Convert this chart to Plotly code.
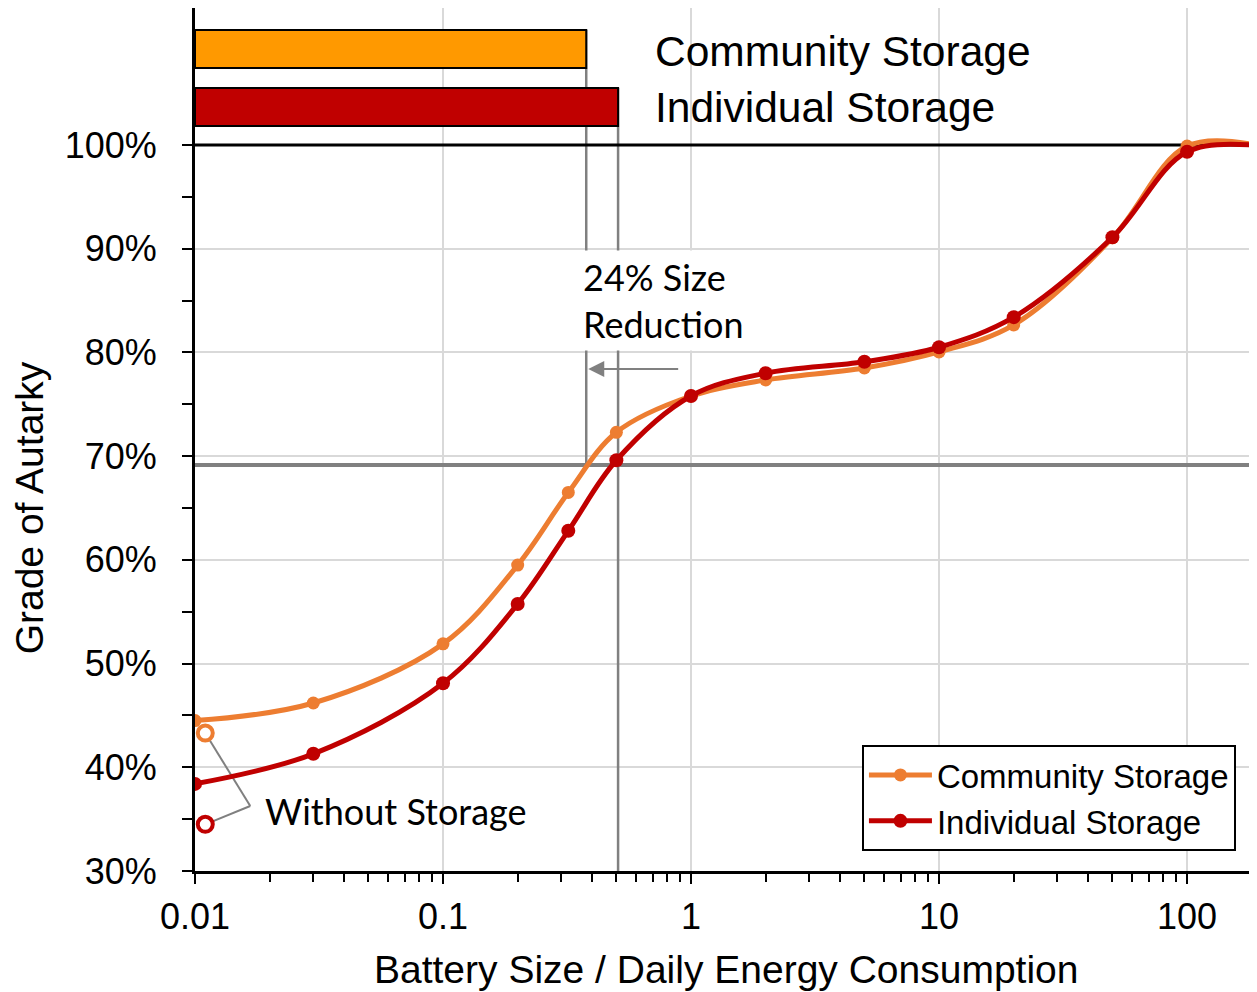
import numpy as np
import plotly.graph_objects as go

# ---------------- data ----------------
battery_size = [0.01, 0.03, 0.1, 0.2, 0.32, 0.5, 1, 2, 5, 10, 20, 50, 100, 200]
community = [0.445, 0.462, 0.519, 0.595, 0.665, 0.723, 0.758, 0.7735, 0.785,
             0.8005, 0.8265, 0.9105, 0.999, 0.999]
individual = [0.384, 0.413, 0.481, 0.5575, 0.628, 0.696, 0.758, 0.780, 0.791,
              0.805, 0.834, 0.911, 0.9935, 0.999]

no_storage_x = [0.011]
no_storage_community = [0.433]
no_storage_individual = [0.345]

series_names = ["Community Storage", "Individual Storage"]
required_size = [0.378, 0.508]        # battery size needed for target autarky
target_autarky = 0.6915
reduction_label = "24% Size<br>Reduction"
no_storage_label = "Without Storage"
x_title = "Battery Size / Daily Energy Consumption"
y_title = "Grade of Autarky"

x_tickvals = [0.01, 0.1, 1, 10, 100]
x_ticktext = ["0.01", "0.1", "1", "10", "100"]
y_tickvals = [0.3, 0.4, 0.5, 0.6, 0.7, 0.8, 0.9, 1.0]
y_ticktext = ["30%", "40%", "50%", "60%", "70%", "80%", "90%", "100%"]
y_minor_tickvals = [0.35, 0.45, 0.55, 0.65, 0.75, 0.85, 0.95]

# ---------------- style ----------------
ORANGE = "#ED7D31"
RED = "#C00000"
BAR_COLORS = ["#FF9900", "#C00000"]
GRAY = "#808080"
GRID = "#D9D9D9"
ARIAL = "Liberation Sans, Arial, sans-serif"
CALIBRI = "Lato, Carlito, Calibri, sans-serif"

X_LOG_RANGE = [-2, 2.282]
Y_RANGE = [0.30, 1.1321]
x_min = 10 ** X_LOG_RANGE[0]
x_max = 10 ** X_LOG_RANGE[1]

bar_y_extent = [(1.0742, 1.1109), (1.0183, 1.0550)]

fig = go.Figure()

# reference lines
fig.add_trace(go.Scatter(x=[x_min, x_max], y=[target_autarky, target_autarky],
                         mode="lines", line=dict(color=GRAY, width=4),
                         showlegend=False, hoverinfo="skip"))
fig.add_trace(go.Scatter(x=[required_size[0], required_size[0]],
                         y=[bar_y_extent[0][1], target_autarky],
                         mode="lines", line=dict(color=GRAY, width=2.5),
                         showlegend=False, hoverinfo="skip"))
fig.add_trace(go.Scatter(x=[required_size[1], required_size[1]],
                         y=[bar_y_extent[1][1], Y_RANGE[0]],
                         mode="lines", line=dict(color=GRAY, width=2.5),
                         showlegend=False, hoverinfo="skip"))
fig.add_trace(go.Scatter(x=[x_min, x_max], y=[1.0, 1.0],
                         mode="lines", line=dict(color="black", width=3),
                         showlegend=False, hoverinfo="skip"))

# required-size bars at the top
for size, (y0, y1), col in zip(required_size, bar_y_extent, BAR_COLORS):
    fig.add_trace(go.Scatter(x=[x_min, size, size, x_min, x_min],
                             y=[y0, y0, y1, y1, y0],
                             mode="lines", fill="toself", fillcolor=col,
                             line=dict(color="black", width=2),
                             showlegend=False, hoverinfo="skip"))

# leader lines for "Without Storage"
join_x, join_y = 0.0167, 0.3627
for yv in (no_storage_community[0], no_storage_individual[0]):
    fig.add_trace(go.Scatter(x=[join_x, no_storage_x[0]], y=[join_y, yv],
                             mode="lines", line=dict(color=GRAY, width=2),
                             showlegend=False, hoverinfo="skip"))

# main curves
fig.add_trace(go.Scatter(x=battery_size, y=community, name=series_names[0],
                         mode="lines+markers",
                         line=dict(color=ORANGE, width=5, shape="spline", smoothing=1),
                         marker=dict(color=ORANGE, size=13)))
fig.add_trace(go.Scatter(x=battery_size, y=individual, name=series_names[1],
                         mode="lines+markers",
                         line=dict(color=RED, width=5, shape="spline", smoothing=1),
                         marker=dict(color=RED, size=14)))

# without-storage markers
fig.add_trace(go.Scatter(x=no_storage_x, y=no_storage_community, mode="markers",
                         marker=dict(color="white", size=15,
                                     line=dict(color=ORANGE, width=4)),
                         showlegend=False, hoverinfo="skip"))
fig.add_trace(go.Scatter(x=no_storage_x, y=no_storage_individual, mode="markers",
                         marker=dict(color="white", size=15,
                                     line=dict(color=RED, width=4)),
                         showlegend=False, hoverinfo="skip"))

annotations = [
    dict(xref="paper", yref="y", x=0.4315, y=1.0897, xanchor="left", yanchor="middle",
         text=series_names[0], showarrow=False, font=dict(family=ARIAL, size=42.5, color="black")),
    dict(xref="paper", yref="y", x=0.4315, y=1.0357, xanchor="left", yanchor="middle",
         text=series_names[1], showarrow=False, font=dict(family=ARIAL, size=42.5, color="black")),
    dict(xref="x", yref="y", x=-0.4556, y=0.8496, xanchor="left", yanchor="middle",
         text=reduction_label, align="left", showarrow=False, bgcolor="white",
         borderpad=4, font=dict(family=CALIBRI, size=36, color="black")),
    dict(xref="x", yref="y", x=np.log10(0.385), y=0.784, axref="x", ayref="y",
         ax=np.log10(0.9), ay=0.784, text="", showarrow=True, arrowhead=2,
         arrowsize=1.6, arrowwidth=2, arrowcolor=GRAY),
    dict(xref="x", yref="y", x=-1.7258, y=0.3579, xanchor="left", yanchor="middle",
         text=no_storage_label, showarrow=False,
         font=dict(family=CALIBRI, size=36, color="black")),
    # axis titles
    dict(xref="paper", yref="paper", x=0.5, y=-0.1147, xanchor="center", yanchor="middle",
         text=x_title, showarrow=False, font=dict(family=ARIAL, size=39, color="black")),
    dict(xref="paper", yref="y", x=-0.156, y=0.65, xanchor="center", yanchor="middle",
         text=y_title, textangle=-90, showarrow=False,
         font=dict(family=ARIAL, size=39, color="black")),
]

x_minor = [k * 10 ** e for e in range(-2, 3) for k in range(2, 10) if k * 10 ** e <= x_max]

# the page body adds an 8px offset; compensate so the plot lands at the reference place
fig.update_layout(
    width=1249, height=984,
    margin=dict(l=187, r=0, t=0, b=121),
    paper_bgcolor="white", plot_bgcolor="white",
    font=dict(family=ARIAL, color="black"),
    annotations=annotations,
    legend=dict(x=0.628, y=0.146, xanchor="left", yanchor="top",
                bordercolor="black", borderwidth=2, bgcolor="white",
                font=dict(family=ARIAL, size=33, color="black"),
                tracegroupgap=0, itemwidth=63),
    xaxis=dict(type="log", range=X_LOG_RANGE, tickvals=x_tickvals, ticktext=x_ticktext,
               automargin=False,
               ticks="outside", ticklen=10, tickwidth=2, tickcolor="black",
               showline=True, linecolor="black", linewidth=3, mirror=True,
               showgrid=True, gridcolor=GRID, gridwidth=2, zeroline=False,
               tickfont=dict(family=ARIAL, size=36, color="black"),
               ticklabelstandoff=2,
               minor=dict(tickvals=x_minor, ticks="outside", ticklen=8, tickwidth=2,
                          tickcolor="black", showgrid=False)),
    yaxis=dict(range=Y_RANGE, tickvals=y_tickvals, ticktext=y_ticktext,
               automargin=False,
               ticks="outside", ticklen=10, tickwidth=2, tickcolor="black",
               showline=True, linecolor="black", linewidth=3,
               showgrid=True, gridcolor=GRID, gridwidth=2, zeroline=False,
               tickfont=dict(family=ARIAL, size=36, color="black"),
               ticklabelstandoff=18,
               minor=dict(tickvals=y_minor_tickvals, ticks="outside", ticklen=10,
                          tickwidth=2, tickcolor="black", showgrid=False)),
)

fig.write_html("out.html")
